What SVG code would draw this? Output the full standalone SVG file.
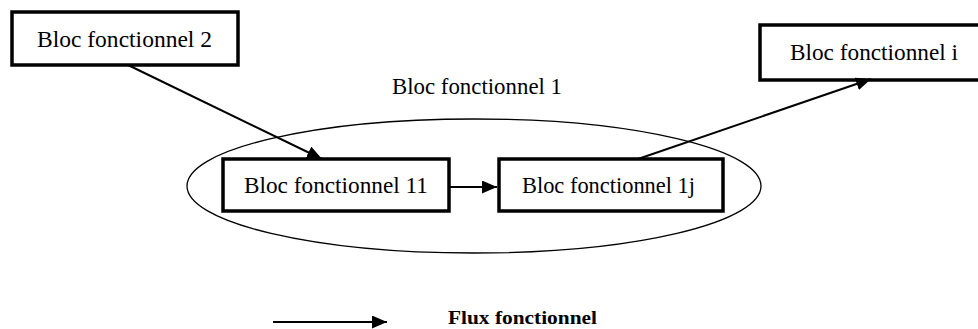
<svg xmlns="http://www.w3.org/2000/svg" width="978" height="329" viewBox="0 0 978 329">
<style>
.box{fill:#fff;stroke:#000;stroke-width:3.5;stroke-linejoin:miter}
.t{font-family:"Liberation Serif","Times New Roman",serif;font-size:23px;fill:#000}
.b{font-family:"Liberation Serif","Times New Roman",serif;font-size:19px;font-weight:bold;fill:#000}
.c{stroke:#000;stroke-width:2;fill:none}
</style>
<defs>
<marker id="ah" markerUnits="userSpaceOnUse" markerWidth="16" markerHeight="14" refX="15" refY="6.5" orient="auto">
<path d="M0,0 L15,6.5 L0,13 Z" fill="#000"/>
</marker>
</defs>
<rect width="978" height="329" fill="#fff"/>
<g id="bloc1">
<ellipse cx="474" cy="186" rx="287" ry="67" fill="none" stroke="#000" stroke-width="1.3"/>
<text class="t" x="392" y="94" textLength="170" lengthAdjust="spacingAndGlyphs">Bloc fonctionnel 1</text>
</g>
<g id="bloc2">
<rect class="box" x="12" y="12" width="226" height="53"/>
<text class="t" x="37" y="47" textLength="175" lengthAdjust="spacingAndGlyphs">Bloc fonctionnel 2</text>
</g>
<g id="bloci">
<rect class="box" x="760" y="25" width="230" height="55"/>
<text class="t" x="790" y="60" textLength="168" lengthAdjust="spacingAndGlyphs">Bloc fonctionnel i</text>
</g>
<g id="bloc11">
<rect class="box" x="223" y="159" width="226" height="52"/>
<text class="t" x="244" y="193" textLength="184" lengthAdjust="spacingAndGlyphs">Bloc fonctionnel 11</text>
</g>
<g id="bloc1j">
<rect class="box" x="499" y="159" width="224" height="52"/>
<text class="t" x="522" y="193" textLength="173" lengthAdjust="spacingAndGlyphs">Bloc fonctionnel 1j</text>
</g>
<g id="connectors">
<line class="c" x1="128" y1="65" x2="322" y2="159" marker-end="url(#ah)"/>
<line class="c" x1="449" y1="187" x2="497" y2="187" marker-end="url(#ah)"/>
<line class="c" x1="638" y1="159" x2="871" y2="79" marker-end="url(#ah)"/>
</g>
<g id="legend">
<line class="c" x1="273" y1="322" x2="387" y2="322" marker-end="url(#ah)"/>
<text class="b" x="448" y="324" textLength="149" lengthAdjust="spacingAndGlyphs">Flux fonctionnel</text>
</g>
</svg>
